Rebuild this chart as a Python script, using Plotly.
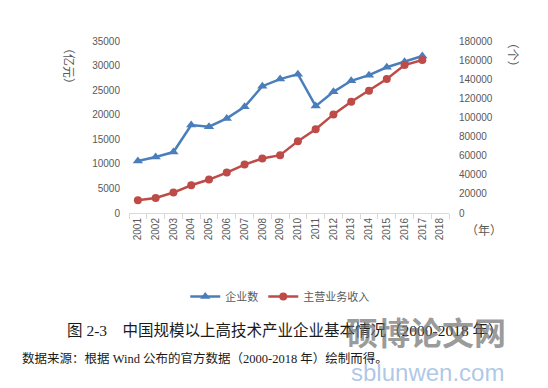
import plotly.graph_objects as go

years = [str(y) for y in range(2001, 2019)]
enterprises = [10600, 11400, 12400, 17900, 17550, 19250, 21600, 25800, 27250, 28250,
               21750, 24650, 26900, 28050, 29650, 30800, 31950, None]
revenue = [13300, 15700, 21400, 29000, 35000, 42300, 50700, 57000, 60500, 75200,
           87700, 103200, 116400, 127900, 140200, 154800, 160100, None]

left_ticks = [0, 5000, 10000, 15000, 20000, 25000, 30000, 35000]
right_ticks = [0, 20000, 40000, 60000, 80000, 100000, 120000, 140000, 160000, 180000]

BLUE = "#4a7ebb"
RED = "#be4b48"
GRAY = "#595959"
tickfont = dict(family="Liberation Sans, Arial, sans-serif", size=10, color=GRAY)

fig = go.Figure()
fig.add_trace(go.Scatter(x=years, y=enterprises, name="企业数", mode="lines+markers",
                         line=dict(color=BLUE, width=2.5),
                         marker=dict(symbol="triangle-up", size=9, color=BLUE),
                         yaxis="y"))
fig.add_trace(go.Scatter(x=years, y=revenue, name="主营业务收入", mode="lines+markers",
                         line=dict(color=RED, width=2.5),
                         marker=dict(symbol="circle", size=8, color=RED),
                         yaxis="y2"))

L, R, T, B = 129, 98.5, 41, 175.3
W, H = 548, 388
pw = W - L - R
ph = H - T - B

def px(x):
    return (x - L) / pw

def py(y):
    return (H - B - y) / ph

fig.update_layout(
    width=W, height=H,
    margin=dict(l=L, r=R, t=T, b=B, pad=0, autoexpand=False),
    paper_bgcolor="white", plot_bgcolor="white",
    showlegend=True,
    legend=dict(orientation="h", x=px(280), y=py(296), xanchor="center", yanchor="middle",
                font=dict(family="Noto Sans CJK SC", size=11, color=GRAY),
                itemwidth=30, tracegroupgap=0, bgcolor="rgba(0,0,0,0)"),
    xaxis=dict(type="category", categoryorder="array", categoryarray=years,
               tickvals=years, ticktext=years,
               tickangle=-90, tickfont=tickfont, showgrid=False,
               showline=True, linecolor="#d9d9d9", linewidth=1,
               ticks="outside", tickson="boundaries", ticklen=5, tickcolor="#d9d9d9",
               range=[-0.5, 17.5], zeroline=False, automargin=False),
    yaxis=dict(range=[0, 35000], tickvals=left_ticks, tickformat="d", tickfont=tickfont,
               showgrid=False, zeroline=False, showline=False, ticks="",
               ticklabelstandoff=8, automargin=False),
    yaxis2=dict(range=[0, 180000], tickvals=right_ticks, tickformat="d", tickfont=tickfont,
                overlaying="y", side="right", showgrid=False, zeroline=False,
                showline=False, ticks="", ticklabelstandoff=9, automargin=False),
)

def ann(text, x, y, font, xanchor="center", angle=0):
    fig.add_annotation(text=text, x=px(x), y=py(y), xref="paper", yref="paper",
                       showarrow=False, xanchor=xanchor, yanchor="middle",
                       textangle=angle, font=font)

ann_font = dict(family="Noto Sans CJK SC", size=12, color=GRAY)
ann("（亿元）", 70, 66, ann_font, angle=90)
ann("（个）", 515, 55, ann_font, angle=90)
ann("（年）", 485, 229, ann_font)

ann("图 2-3　中国规模以上高技术产业企业基本情况（2000-2018 年）", 286, 330,
    dict(family="Liberation Serif, Noto Sans CJK SC", size=15.5, color="#1a1a1a"))
ann("数据来源：根据 Wind 公布的官方数据（2000-2018 年）绘制而得。", 20, 358,
    dict(family="Liberation Serif, Noto Sans CJK SC", size=12.5, color="#1a1a1a"), xanchor="left")

# watermark
ann("<b>硕博论文网</b>", 426, 330,
    dict(family="Noto Sans CJK SC", size=32, color="rgba(110,110,110,0.7)"))
ann("sblunwen.com", 428, 372,
    dict(family="Liberation Sans, Arial", size=24, color="rgba(140,175,220,0.7)"))

fig.write_html("out.html", config={"displayModeBar": False},
               post_script="document.body.style.margin='0';")
